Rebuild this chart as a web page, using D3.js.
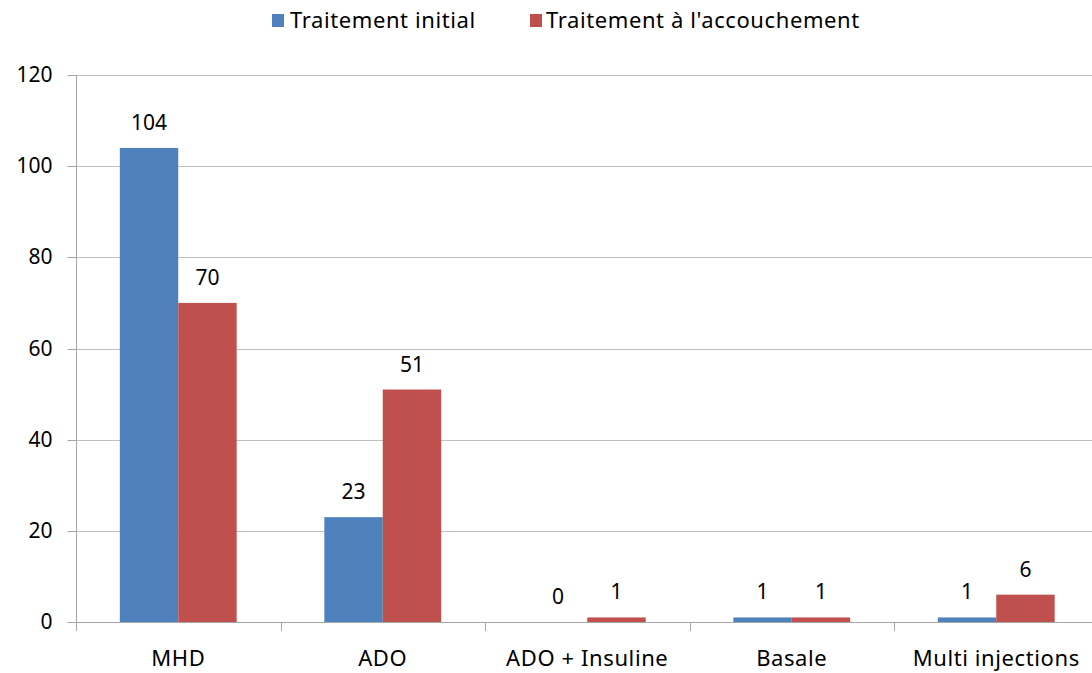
<!DOCTYPE html>
<html><head><meta charset="utf-8">
<script src="https://cdn.jsdelivr.net/npm/d3@7"></script>
<style>body{margin:0;background:#fff}svg{display:block}text{font-family:"Noto Sans","Open Sans",sans-serif;fill:#000}</style>
</head><body><svg id="c" width="1092" height="673"></svg>
<script>
const categories = ["MHD", "ADO", "ADO + Insuline", "Basale", "Multi injections"];
const seriesNames = ["Traitement initial", "Traitement à l'accouchement"];
const initial = [104, 23, 0, 1, 1];
const accouchement = [70, 51, 1, 1, 6];
const yTicks = [0, 20, 40, 60, 80, 100, 120];
const colors = ["#4f81bd", "#c0504d"];

(function(){
const svg = d3.select("#c");
const pl = 76, pr = 1098.5, pt = 75, pb = 622;
const fs = "21px", fsT = "22px", ls = "0.6px";
const x = d3.scaleBand().domain(categories).range([pl, pr]).paddingInner(0).paddingOuter(0);
const inner = d3.scaleBand().domain([0,1]).range([0, x.bandwidth()]).paddingInner(0).paddingOuter(0.75);
const y = d3.scaleLinear().domain([0, 120]).range([pb, pt]);

// gridlines
svg.append("g").selectAll("line").data(yTicks.filter(d=>d>0)).join("line")
  .attr("x1", pl).attr("x2", 1092).attr("y1", d=>Math.round(y(d))+0.5).attr("y2", d=>Math.round(y(d))+0.5)
  .attr("stroke", "#bfbfbf").attr("stroke-width", 1);

// y axis
const yAxis = d3.axisLeft(y).tickValues(yTicks).tickSize(9).tickPadding(15);
const gy = svg.append("g").attr("transform", `translate(${pl+0.5},0)`).call(yAxis);
gy.select(".domain").attr("stroke", "#a6a6a6").attr("d", `M0,${y(120)}V${pb}`);
gy.selectAll(".tick").attr("transform", d => `translate(0,${Math.round(y(d))+0.5})`);
gy.selectAll(".tick line").attr("stroke", "#a6a6a6");
gy.selectAll(".tick text").style("font-size", fs).attr("fill", "#000").attr("font-family", null);

// x axis
svg.append("line").attr("x1", pl).attr("x2", 1092).attr("y1", pb+0.5).attr("y2", pb+0.5).attr("stroke", "#a6a6a6");
const bounds = categories.map(c => x(c)).concat([x(categories[4]) + x.bandwidth()]);
svg.append("g").selectAll("line").data(bounds.filter(b => b <= 1092)).join("line")
  .attr("x1", d=>Math.round(d)+0.5).attr("x2", d=>Math.round(d)+0.5).attr("y1", pb).attr("y2", pb+9)
  .attr("stroke", "#a6a6a6");
svg.append("g").selectAll("text").data(categories).join("text")
  .attr("x", d => x(d) + x.bandwidth()/2).attr("y", 666)
  .attr("text-anchor", "middle").style("font-size", fsT).style("letter-spacing", ls).text(d=>d);

// bars
const series = [initial, accouchement];
series.forEach((vals, si) => {
  const g = svg.append("g");
  g.selectAll("rect").data(vals).join("rect")
    .attr("x", (d,i) => x(categories[i]) + inner(si))
    .attr("width", inner.bandwidth())
    .attr("y", d => y(d))
    .attr("height", d => pb - y(d))
    .attr("fill", colors[si]);
  g.selectAll("text").data(vals).join("text")
    .attr("x", (d,i) => x(categories[i]) + inner(si) + inner.bandwidth()/2)
    .attr("y", d => y(d) - 18)
    .attr("text-anchor", "middle").style("font-size", fs).text(d=>d);
});

// legend
const leg = [{n: seriesNames[0], c: colors[0], x: 272, tx: 290}, {n: seriesNames[1], c: colors[1], x: 530, tx: 546}];
leg.forEach(l => {
  svg.append("rect").attr("x", l.x).attr("y", 14).attr("width", 12).attr("height", 13).attr("fill", l.c);
  svg.append("text").attr("x", l.tx).attr("y", 28).style("font-size", fsT).style("letter-spacing", ls).text(l.n);
});
})();
</script></body></html>
